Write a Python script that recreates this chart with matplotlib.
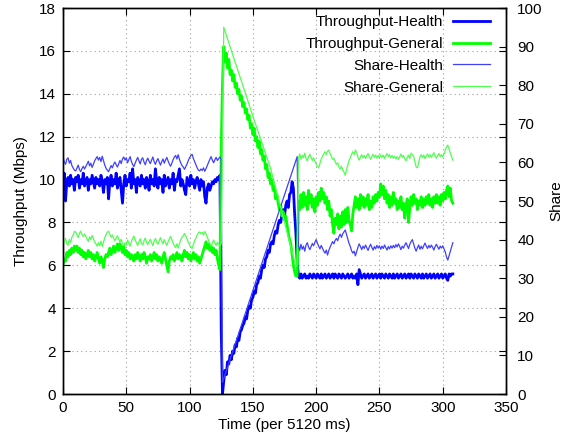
import numpy as np
import matplotlib
matplotlib.use("Agg")
import matplotlib.pyplot as plt

plt.rcParams['font.family'] = ['Liberation Sans', 'DejaVu Sans']
plt.rcParams['font.size'] = 11

# Throughput (Mbps), one value per time step, t = 0 .. 308
throughput_health = [
    9.6, 10.3, 9.0, 9.9, 10.1, 9.7, 10.2, 9.8, 10.0, 9.5,
    10.1, 9.9, 10.2, 9.6, 10.0, 9.8, 10.3, 9.7, 9.9, 10.1,
    9.5, 10.0, 9.8, 10.2, 9.9, 9.6, 10.1, 9.8, 10.0, 9.7,
    10.2, 9.9, 9.4, 10.0, 9.8, 10.1, 9.1, 9.9, 10.2, 9.7,
    10.0, 9.8, 10.3, 9.6, 9.9, 10.1, 9.5, 8.9, 9.8, 10.2,
    9.7, 10.0, 9.9, 10.3, 9.6, 10.5, 9.8, 10.0, 9.4, 10.1,
    9.9, 9.7, 10.2, 9.8, 10.0, 9.6, 10.1, 9.9, 9.5, 10.2,
    9.8, 10.0, 9.7, 10.5, 9.9, 9.6, 10.1, 9.8, 10.0, 9.4,
    10.2, 9.7, 9.9, 10.1, 9.6, 10.0, 9.8, 10.3, 9.5, 10.0,
    9.9, 10.2, 10.5, 9.7, 10.0, 9.8, 9.5, 9.3, 10.1, 9.9,
    9.7, 10.2, 9.8, 10.0, 9.6, 9.9, 10.1, 9.8, 9.5, 10.0,
    9.7, 9.9, 9.2, 8.9, 9.6, 9.8, 9.5, 9.7, 9.9, 9.8,
    10.0, 9.9, 10.1, 10.0, 10.2,
    3.0, 0.0, 0.6, 1.1, 0.9,
    1.5, 1.4, 1.8, 1.6, 2.0, 1.9, 2.3, 2.2, 2.6, 2.5,
    2.9, 3.0, 3.2, 3.3, 3.6, 3.5, 3.9, 4.1, 4.0, 4.4,
    4.5, 4.8, 4.7, 5.1, 5.2, 5.5, 5.4, 5.8, 6.0, 5.9,
    6.3, 6.4, 6.7, 6.6, 7.0, 7.1, 7.0, 7.4, 7.6, 7.5,
    7.9, 8.1, 8.0, 8.4, 8.6, 8.3, 8.8, 9.0, 8.7, 9.3,
    9.4, 9.9, 9.6, 8.4, 7.5, 6.2,
    5.5, 5.4, 5.6, 5.4, 5.5, 5.6, 5.4, 5.5, 5.4, 5.6,
    5.5, 5.4, 5.6, 5.5, 5.4, 5.6, 5.5, 5.4, 5.6, 5.4,
    5.5, 5.6, 5.4, 5.5, 5.6, 5.4, 5.5, 5.6, 5.4, 5.6,
    5.5, 5.4, 5.6, 5.5, 5.4, 5.6, 5.5, 5.4, 5.5, 5.6,
    5.4, 5.5, 5.6, 5.4, 5.5, 5.4, 5.6, 5.1, 5.8, 5.6,
    5.4, 5.5, 5.6, 5.4, 5.5, 5.6, 5.4, 5.5, 5.6, 5.4,
    5.5, 5.6, 5.4, 5.5, 5.6, 5.4, 5.6, 5.5, 5.4, 5.6,
    5.5, 5.4, 5.6, 5.5, 5.4, 5.6, 5.4, 5.5, 5.6, 5.4,
    5.5, 5.6, 5.4, 5.5, 5.6, 5.4, 5.5, 5.6, 5.4, 5.6,
    5.5, 5.4, 5.6, 5.5, 5.4, 5.6, 5.5, 5.4, 5.6, 5.4,
    5.5, 5.6, 5.4, 5.5, 5.6, 5.4, 5.5, 5.6, 5.4, 5.5,
    5.6, 5.4, 5.5, 5.6, 5.4, 5.5, 5.6, 5.4, 5.3, 5.6,
    5.5, 5.6, 5.6,
]

throughput_general = [
    6.0, 6.3, 6.2, 6.6, 6.4, 6.7, 6.5, 6.8, 6.6, 6.9,
    6.7, 6.9, 6.6, 6.8, 6.5, 6.7, 6.4, 6.6, 6.3, 6.5,
    6.7, 6.4, 6.6, 6.3, 6.5, 6.2, 6.4, 6.6, 6.3, 6.1,
    6.4, 6.2, 5.9, 6.3, 6.5, 6.4, 6.6, 6.8, 6.5, 6.7,
    6.9, 6.6, 6.8, 7.0, 6.7, 7.0, 6.8, 6.6, 6.9, 6.5,
    6.7, 6.4, 6.6, 6.3, 6.5, 6.4, 6.2, 6.5, 6.3, 6.6,
    6.4, 6.2, 6.5, 6.3, 6.6, 6.4, 6.1, 6.4, 6.3, 6.5,
    6.2, 6.4, 6.6, 6.3, 6.5, 6.2, 6.4, 6.3, 6.1, 6.4,
    6.6, 6.3, 6.0, 5.7, 6.2, 6.4, 6.3, 6.5, 6.2, 6.4,
    6.6, 6.3, 6.5, 6.4, 6.2, 6.5, 6.7, 6.4, 6.6, 6.3,
    6.5, 6.2, 6.4, 6.6, 6.3, 6.5, 6.2, 6.4, 6.1, 6.3,
    6.5, 6.7, 6.9, 7.1, 6.8, 7.0, 6.7, 6.9, 6.6, 6.8,
    6.5, 6.7, 6.3, 6.0, 5.8,
    11.5, 14.5, 16.2, 15.5, 15.9,
    15.2, 15.6, 14.9, 15.1, 14.6, 14.9, 14.3, 14.5, 14.0, 14.2,
    13.7, 13.9, 13.4, 13.6, 13.1, 13.3, 12.8, 13.0, 12.4, 12.6,
    12.1, 12.4, 11.8, 12.0, 11.5, 11.8, 11.2, 11.4, 10.9, 11.1,
    10.5, 10.7, 10.1, 10.3, 9.8, 10.0, 9.5, 9.7, 9.1, 9.3,
    8.9, 8.6, 8.8, 8.3, 8.5, 8.1, 8.3, 7.9, 7.5, 7.2,
    7.0, 6.5, 6.0, 5.7, 5.5, 5.5,
    9.0, 8.6, 9.3, 8.7, 9.4, 8.8, 9.2, 8.6, 9.5, 8.9,
    9.3, 8.7, 9.1, 8.5, 9.2, 8.8, 9.4, 9.0, 9.6, 9.1,
    9.4, 8.9, 9.2, 8.6, 9.0, 8.3, 8.6, 7.9, 7.5, 8.2,
    7.9, 8.4, 7.7, 8.3, 7.8, 8.5, 7.9, 8.6, 8.0, 8.7,
    8.1, 7.9, 7.6, 8.4, 8.8, 9.2, 8.7, 9.1, 8.6, 9.3,
    8.8, 9.2, 8.7, 9.1, 8.8, 9.3, 8.6, 9.0, 8.7, 9.2,
    8.9, 9.3, 9.0, 9.4, 9.2, 9.8, 9.3, 9.7, 9.1, 9.5,
    8.9, 9.3, 8.7, 9.2, 8.8, 9.4, 8.9, 9.1, 8.6, 9.0,
    8.7, 9.2, 8.6, 8.9, 8.2, 8.8, 9.1, 8.0, 8.7, 9.2,
    8.8, 9.3, 8.9, 9.1, 8.6, 9.0, 8.8, 9.2, 8.7, 9.1,
    8.8, 9.2, 8.9, 9.3, 8.8, 9.1, 8.7, 9.2, 8.9, 9.3,
    8.9, 9.2, 8.8, 9.3, 9.0, 9.4, 9.1, 9.5, 9.7, 9.2,
    9.6, 9.0, 8.9,
]

# Share (%), before the switch (t = 0 .. 125)
share_health_early = [
    61.5, 60.2, 59.5, 60.8, 61.2, 59.8, 60.5, 59.2, 58.6, 58.0,
    57.8, 58.5, 59.3, 58.2, 57.6, 58.4, 59.0, 58.3, 58.9, 59.6,
    60.3, 59.1, 59.8, 58.7, 59.5, 60.4, 61.0, 61.5, 60.6, 61.3,
    60.2, 61.6, 60.4, 59.3, 58.5, 58.0, 57.6, 58.4, 59.2, 58.6,
    59.5, 60.1, 59.4, 58.8, 59.6, 60.5, 59.7, 60.9, 61.4, 60.6,
    61.2, 59.9, 60.7, 61.5, 60.3, 59.5, 58.9, 59.8, 60.6, 61.3,
    60.4, 59.6, 60.8, 61.2, 60.1, 59.4, 60.5, 61.1, 60.3, 59.7,
    60.6, 61.4, 60.2, 59.5, 60.4, 61.0, 60.1, 59.3, 60.2, 60.9,
    59.8, 60.6, 61.3, 60.4, 59.6, 59.0, 59.8, 60.7, 61.4, 61.8,
    60.9, 62.0, 60.8, 59.9, 59.2, 58.8, 58.2, 58.9, 59.6, 60.5,
    61.2, 61.8, 62.1, 61.0, 60.2, 59.4, 58.6, 58.0, 57.8, 58.3,
    57.9, 58.6, 57.7, 58.4, 59.2, 60.0, 60.8, 61.5, 60.6, 59.9,
    60.7, 61.3, 60.5, 61.0, 61.4, 60.8,
]
share_general_early = [
    38.2, 39.6, 40.3, 39.0, 38.5, 40.1, 39.3, 40.6, 41.2, 42.1,
    42.0, 41.3, 40.5, 41.6, 42.2, 41.3, 40.8, 41.5, 40.9, 40.2,
    39.5, 40.7, 40.0, 41.1, 40.3, 39.4, 38.9, 38.3, 39.2, 38.5,
    39.6, 38.2, 39.4, 40.5, 41.3, 41.9, 42.2, 41.4, 40.6, 41.2,
    40.3, 39.7, 40.4, 41.0, 40.2, 39.3, 40.1, 38.9, 38.4, 39.2,
    38.6, 39.9, 39.1, 38.3, 39.5, 40.3, 40.9, 40.0, 39.2, 38.5,
    39.4, 40.2, 39.0, 38.6, 39.7, 40.4, 39.3, 38.7, 39.5, 40.1,
    39.2, 38.4, 39.6, 40.3, 39.4, 38.8, 39.7, 40.5, 39.6, 38.9,
    40.0, 39.2, 38.5, 39.4, 40.2, 40.8, 40.0, 39.1, 38.4, 38.0,
    38.9, 37.8, 39.0, 39.9, 40.6, 41.0, 41.6, 40.9, 40.2, 39.3,
    38.6, 38.0, 37.7, 38.8, 39.6, 40.4, 41.2, 41.8, 42.0, 41.5,
    41.9, 41.2, 42.1, 41.4, 40.6, 39.8, 39.0, 38.3, 39.2, 39.9,
    39.1, 38.5, 39.3, 38.8, 38.4, 39.0,
]

# Share during the transition (read at the corners of the straight parts)
share_health_ramp_t = [126, 185]
share_health_ramp = [3.0, 61.5]
share_general_ramp_t = [127, 150, 164, 184, 185]
share_general_ramp = [95.0, 72.0, 58.5, 33.0, 33.5]

# Share after the transition (t = 186 .. 308)
share_health_late = [
    38.5, 37.2, 38.8, 37.5, 38.3, 37.0, 38.6, 39.2, 38.1, 37.4,
    38.2, 39.0, 38.4, 39.3, 40.0, 39.1, 38.3, 37.6, 38.5, 37.8,
    37.0, 36.5, 37.3, 36.0, 37.2, 38.0, 38.8, 39.5, 38.9, 39.8,
    40.3, 39.7, 40.8, 41.4, 40.6, 41.5, 42.0, 42.5, 41.3, 40.2,
    39.0, 38.2, 37.1, 36.5, 37.0, 35.8, 36.9, 38.0, 38.9, 38.2,
    37.4, 38.3, 37.7, 38.6, 37.9, 37.2, 38.1, 38.8, 38.0, 37.3,
    38.2, 37.6, 38.5, 37.8, 38.4, 37.5, 38.3, 37.7, 38.6, 37.9,
    37.3, 38.2, 37.6, 38.4, 37.8, 38.5, 37.9, 38.7, 38.1, 38.9,
    38.2, 37.4, 38.3, 37.8, 38.6, 39.2, 38.4, 37.7, 38.8, 39.5,
    40.0, 38.9, 37.8, 37.0, 37.9, 38.6, 37.5, 38.3, 37.6, 38.4,
    39.1, 38.3, 37.7, 38.5, 37.9, 38.6, 38.0, 37.3, 38.2, 38.8,
    38.1, 37.5, 38.3, 37.8, 38.4, 37.6, 36.8, 35.5, 34.7, 35.8,
    37.0, 38.1, 39.2,
]
share_general_late = [
    61.0, 62.2, 60.8, 61.9, 61.2, 62.4, 61.0, 60.4, 61.5, 62.1,
    61.3, 60.5, 61.2, 60.3, 59.6, 59.0, 58.6, 59.8, 60.9, 61.5,
    62.2, 62.8, 62.0, 62.9, 63.2, 62.3, 61.6, 60.8, 61.1, 60.2,
    59.5, 59.9, 58.8, 58.3, 59.0, 58.0, 57.5, 56.7, 58.0, 59.3,
    60.5, 61.2, 62.1, 62.8, 62.0, 63.2, 62.6, 61.3, 60.6, 61.4,
    62.0, 61.2, 61.8, 61.0, 61.7, 62.3, 61.4, 60.8, 61.5, 62.1,
    61.3, 61.9, 61.1, 61.8, 61.2, 62.0, 61.3, 61.9, 61.0, 61.7,
    62.3, 61.5, 62.0, 61.2, 61.8, 61.1, 61.6, 60.9, 61.5, 60.8,
    61.4, 62.2, 61.3, 61.8, 61.0, 60.4, 61.2, 61.9, 61.0, 62.4,
    62.0, 61.6, 60.2, 58.8, 58.6, 60.0, 61.4, 62.0, 61.3, 61.9,
    61.0, 61.7, 62.2, 61.4, 62.0, 61.3, 61.9, 62.5, 61.6, 61.1,
    61.8, 62.3, 61.5, 62.0, 61.4, 62.2, 63.2, 64.0, 64.5, 63.5,
    62.4, 61.5, 60.6,
]
late_start = 186

labels = ["Throughput-Health", "Throughput-General", "Share-Health", "Share-General"]


def share_series(early, ramp_t, ramp, late):
    t = list(range(len(early))) + ramp_t + [late_start + i for i in range(len(late))]
    return t, early + ramp + late


t_thr = np.arange(len(throughput_health))
t_sh, v_sh = share_series(share_health_early, share_health_ramp_t, share_health_ramp, share_health_late)
t_sg, v_sg = share_series(share_general_early, share_general_ramp_t, share_general_ramp, share_general_late)

fig = plt.figure(figsize=(5.65, 4.4), dpi=100)
ax = fig.add_axes([0.1115, 0.1045, 0.7841, 0.8773])
ax2 = ax.twinx()

l1, = ax.plot(t_thr, throughput_health, color='#0000ff', lw=2.0, label=labels[0])
l2, = ax.plot(np.arange(len(throughput_general)), throughput_general, color='#00ff00', lw=2.0, label=labels[1])
l3, = ax2.plot(t_sh, v_sh, color='#4040ff', lw=0.9, label=labels[2])
l4, = ax2.plot(t_sg, v_sg, color='#50ff50', lw=0.9, label=labels[3])

ax.set_xlim(0, 350)
ax.set_ylim(0, 18)
ax2.set_ylim(0, 100)
ax.set_xticks(range(0, 351, 50))
ax.set_yticks(range(0, 19, 2))
ax2.set_yticks(range(0, 101, 10))

ax.grid(True, color='#a0a0a0', lw=0.8, linestyle=(0, (1, 3)))
ax.tick_params(direction='in', length=5, top=True, right=True, pad=5)
ax2.tick_params(direction='in', length=5, pad=8)

ax.set_xlabel("Time (per 5120 ms)", labelpad=2)
ax.set_ylabel("Throughput (Mbps)", labelpad=8)
ax2.set_ylabel("Share", labelpad=5)

for a in (ax, ax2):
    for s in a.spines.values():
        s.set_linewidth(1.0)

ax2.legend(handles=[l1, l2, l3, l4], loc='upper right', frameon=False,
           bbox_to_anchor=(0.964, 0.982), borderaxespad=0, borderpad=0,
           markerfirst=False, handlelength=2.45, labelspacing=0.52,
           handletextpad=0.6)

fig.savefig("out.png", dpi=100)
